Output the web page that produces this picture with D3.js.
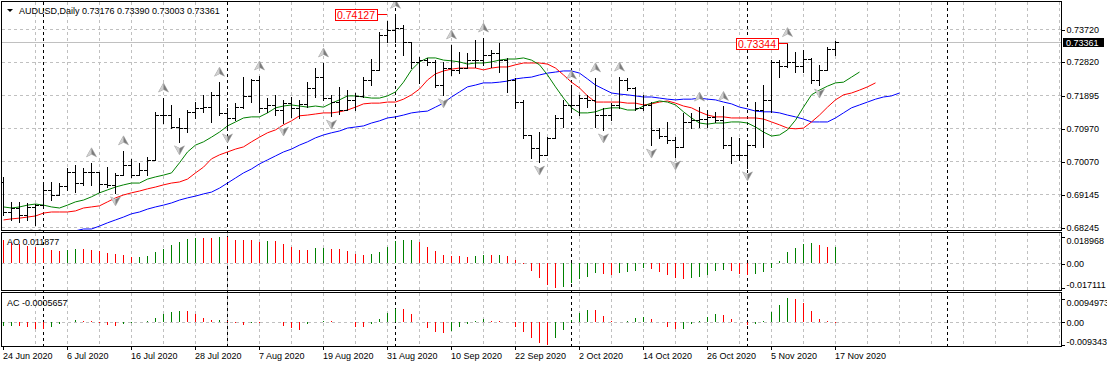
<!DOCTYPE html>
<html>
<head>
<meta charset="utf-8">
<script src="https://cdn.jsdelivr.net/npm/d3@7"></script>
<style>
  body { margin: 0; background: #fff; }
  svg { display: block; font-family: "Liberation Sans", Arial, sans-serif; font-size: 9px; }
</style>
</head>
<body>
<script>
// AUDUSD daily, 24 Jun 2020 .. 17 Nov 2020 (bar index 0..104)
const symbol = "AUDUSD,Daily";
const dateLabels = ["24 Jun 2020", "6 Jul 2020", "16 Jul 2020", "28 Jul 2020", "7 Aug 2020", "19 Aug 2020", "31 Aug 2020",
  "10 Sep 2020", "22 Sep 2020", "2 Oct 2020", "14 Oct 2020", "26 Oct 2020", "5 Nov 2020", "17 Nov 2020"];
const priceTicks = [0.73720, 0.72820, 0.71895, 0.70970, 0.70070, 0.69145, 0.68245];
const aoTicks = [0.018968, 0, -0.017111];
const aoTickLabels = ["0.018968", "0.00", "-0.017111"];
const acTicks = [0.0094973, 0, -0.0093433];
const acTickLabels = ["0.0094973", "0.00", "-0.0093433"];

const open = [.6949,.6866,.6877,.6858,.6880,.6885,.6927,.6913,.6938,.6977,
  .6946,.6977,.6977,.6943,.6941,.6968,.6996,.6968,.6982,.7010,
  .7134,.7134,.7101,.7098,.7143,.7154,.7156,.7190,.7140,.7126,
  .7156,.7187,.7231,.7154,.7162,.7148,.7167,.7154,.7165,.7209,
  .7239,.7181,.7170,.7148,.7176,.7187,.7231,.7259,.7355,.7369,
  .7375,.7336,.7281,.7286,.7281,.7217,.7264,.7259,.7264,.7286,
  .7286,.7300,.7306,.7286,.7231,.7170,.7079,.7043,.7024,.7071,
  .7126,.7162,.7162,.7181,.7176,.7134,.7134,.7162,.7231,.7209,
  .7154,.7162,.7093,.7076,.7065,.7046,.7115,.7120,.7124,.7130,
  .7120,.7051,.7024,.7024,.7051,.7148,.7176,.7281,.7270,.7281,
  .7270,.7290,.7231,.7259,.73176];
const high = [.6963,.6894,.6894,.6891,.6888,.6949,.6949,.6946,.6988,.6996,
  .6988,.7002,.6974,.6990,.6974,.7035,.7013,.7002,.7018,.7143,
  .7181,.7162,.7126,.7148,.7170,.7190,.7198,.7225,.7154,.7167,
  .7239,.7234,.7242,.7181,.7190,.7176,.7184,.7176,.7225,.7264,
  .7278,.7190,.7212,.7203,.7195,.7239,.7289,.7364,.7395,.74127,
  .7383,.7336,.7295,.7292,.7286,.7281,.7328,.7308,.7306,.7342,
  .7347,.7314,.7333,.7292,.7237,.7176,.7079,.7087,.7073,.7134,
  .7176,.7217,.7190,.7190,.7237,.7154,.7167,.7239,.7236,.7212,
  .7190,.7170,.7098,.7115,.7073,.7140,.7140,.7156,.7148,.7143,
  .7158,.7073,.7071,.7060,.7170,.7217,.7286,.7286,.73344,.7308,
  .7314,.7292,.7273,.7322,.73390];
const low = [.6858,.6844,.6838,.6844,.6830,.6885,.6899,.6913,.6927,.6921,
  .6941,.6941,.6921,.6935,.6919,.6968,.6963,.6968,.6968,.7010,
  .7112,.7098,.7060,.7087,.7126,.7143,.7115,.7134,.7093,.7120,
  .7154,.7170,.7143,.7143,.7134,.7112,.7129,.7126,.7156,.7184,
  .7176,.7131,.7137,.7148,.7148,.7184,.7217,.7259,.7336,.7336,
  .7300,.7264,.7223,.7273,.7212,.7190,.7245,.7250,.7264,.7267,
  .7273,.7267,.7253,.7198,.7154,.7071,.7015,.7004,.7024,.7071,
  .7101,.7143,.7134,.7156,.7101,.7093,.7120,.7154,.7203,.7148,
  .7148,.7051,.7071,.7057,.7018,.7046,.7098,.7101,.7101,.7115,
  .7043,.7002,.7010,.6988,.7046,.7046,.7143,.7239,.7267,.7253,
  .7253,.7223,.7217,.7259,.73003];
const close = [.6866,.6877,.6858,.6880,.6885,.6927,.6913,.6938,.6977,.6946,
  .6977,.6977,.6943,.6941,.6968,.6996,.6968,.6982,.7010,.7134,
  .7134,.7101,.7098,.7143,.7154,.7156,.7190,.7140,.7126,.7156,
  .7187,.7231,.7154,.7162,.7148,.7167,.7154,.7165,.7209,.7239,
  .7181,.7170,.7148,.7176,.7187,.7231,.7259,.7355,.7369,.7375,
  .7336,.7281,.7286,.7281,.7217,.7264,.7259,.7264,.7286,.7286,
  .7300,.7306,.7286,.7231,.7170,.7079,.7043,.7024,.7071,.7126,
  .7162,.7162,.7181,.7176,.7134,.7134,.7162,.7231,.7209,.7154,
  .7162,.7093,.7076,.7065,.7046,.7115,.7120,.7124,.7130,.7120,
  .7051,.7024,.7024,.7051,.7148,.7176,.7281,.7270,.7281,.7270,
  .7290,.7231,.7259,.73176,.73361];

// Alligator lines (already shifted forward: lips 3 bars, teeth 5, jaw 8)
const lips = [.6880,.6877,.6880,.6885,.6888,.6885,.6880,.6877,.6885,.6894,
  .6899,.6908,.6919,.6927,.6935,.6941,.6946,.6946,.6957,.6963,
  .6968,.6974,.7002,.7032,.7051,.7060,.7073,.7087,.7104,.7115,
  .7126,.7129,.7129,.7140,.7154,.7159,.7162,.7159,.7156,.7159,
  .7156,.7167,.7176,.7187,.7187,.7184,.7181,.7181,.7187,.7198,
  .7225,.7259,.7281,.7292,.7292,.7286,.7284,.7281,.7275,.7278,
  .7278,.7281,.7286,.7289,.7289,.7292,.7286,.7273,.7245,.7212,
  .7181,.7154,.7140,.7140,.7143,.7151,.7154,.7154,.7148,.7148,
  .7159,.7167,.7173,.7170,.7162,.7143,.7126,.7112,.7109,.7112,
  .7112,.7115,.7115,.7112,.7101,.7087,.7076,.7079,.7093,.7120,
  .7156,.7190,.7203,.7214,.7223,.7225,.7239,.7253];
const teeth = [.6844,.6847,.6849,.6852,.6855,.6863,.6866,.6866,.6866,.6869,
  .6877,.6880,.6883,.6894,.6905,.6913,.6919,.6924,.6930,.6935,
  .6941,.6946,.6949,.6957,.6974,.6990,.7013,.7024,.7032,.7040,
  .7046,.7060,.7073,.7085,.7093,.7107,.7118,.7132,.7134,.7137,
  .7140,.7140,.7143,.7148,.7156,.7165,.7167,.7167,.7170,.7170,
  .7178,.7190,.7206,.7231,.7248,.7256,.7261,.7264,.7264,.7264,
  .7259,.7264,.7267,.7267,.7273,.7278,.7278,.7278,.7275,.7264,
  .7245,.7225,.7209,.7187,.7170,.7170,.7170,.7170,.7167,.7167,
  .7162,.7165,.7170,.7173,.7167,.7159,.7154,.7143,.7134,.7129,
  .7129,.7126,.7126,.7126,.7126,.7123,.7115,.7107,.7098,.7096,
  .7098,.7115,.7134,.7156,.7176,.7190,.7195,.7203,.7212,.7223];
const jawStart = 9;
const jaw = [.6814,.6819,.6819,.6827,.6836,.6844,.6852,.6861,.6866,.6874,
  .6880,.6885,.6891,.6899,.6905,.6910,.6916,.6921,.6932,.6946,
  .6960,.6974,.6985,.6999,.7010,.7021,.7032,.7040,.7051,.7060,
  .7071,.7079,.7085,.7090,.7098,.7101,.7104,.7112,.7118,.7126,
  .7129,.7134,.7140,.7143,.7145,.7156,.7167,.7184,.7198,.7212,
  .7217,.7223,.7223,.7225,.7228,.7234,.7237,.7239,.7245,.7250,
  .7253,.7256,.7256,.7250,.7234,.7217,.7206,.7195,.7192,.7190,
  .7187,.7184,.7184,.7181,.7178,.7176,.7178,.7178,.7181,.7178,
  .7176,.7170,.7165,.7156,.7151,.7145,.7143,.7143,.7140,.7134,
  .7129,.7123,.7115,.7115,.7115,.7126,.7140,.7154,.7162,.7170,
  .7178,.7184,.7187,.7195];

const fractalUp = [11, 15, 20, 27, 32, 40, 49, 56, 60, 71, 74, 77, 87, 90, 98];
const fractalDown = [4, 14, 22, 28, 35, 41, 55, 67, 75, 81, 84, 93, 102];
const markBars = [49, 98];
const markPrices = [0.74127, 0.73344];
const separatorBars = [5, 28, 49, 71, 93, 118];

const aoPrev = 0.0172;
const ao = [.01648,.01414,.01344,.01251,.01181,.01110,.00919,.00870,.00940,.01011,
  .00990,.00940,.00870,.00707,.00636,.00566,.00445,.00474,.00516,.00799,
  .01039,.01294,.01506,.01718,.01817,.01789,.01768,.018968,.01838,.01648,
  .01640,.01633,.01506,.01577,.01570,.01365,.01181,.00940,.00919,.01061,
  .01110,.01011,.00990,.00870,.00636,.00587,.00636,.00827,.01181,.01577,
  .01648,.01670,.01485,.01181,.00870,.00587,.00542,.00518,.00448,.00518,
  .00590,.00580,.00600,.00518,.00236,-.00071,-.00542,-.01061,-.01532,-.017111,
  -.01650,-.01414,-.01108,-.00943,-.00707,-.00778,-.00800,-.00707,-.00589,-.00542,
  -.00306,-.00400,-.00589,-.00825,-.01014,-.01108,-.01061,-.00943,-.00825,-.00542,
  -.00471,-.00542,-.00778,-.00825,-.00778,-.00636,-.00354,.00165,.00825,.01108,
  .01367,.01414,.01290,.01160,0.011877];
const acPrev = -0.0022;
const ac = [-.00160,-.00156,-.00168,-.00200,-.00280,-.00288,-.00200,-.00092,-.00012,.00052,
  .00040,.00012,-.00040,-.00132,-.00160,-.00092,-.00040,-.00020,.00020,.00160,
  .00320,.00400,.00440,.00432,.00320,.00148,.00052,.00056,.00008,-.00068,
  -.00120,-.00068,-.00072,-.00028,-.00024,-.00160,-.00268,-.00320,-.00108,-.00012,
  .00028,.00012,-.00008,-.00028,-.00200,-.00208,-.00092,.00092,.00332,.00532,
  .00508,.00292,-.00004,-.00240,-.00428,-.00468,-.00372,-.00200,-.00092,.00008,
  .00092,.00040,.00012,-.00008,-.00200,-.00428,-.00668,-.00868,-.0093433,-.00668,
  -.00332,.00068,.00332,.00492,.00468,.00228,.00040,-.00004,.00040,.00132,
  .00200,.00092,-.00004,-.00200,-.00292,-.00280,-.00108,.00040,.00200,.00308,
  .00268,.00092,-.00012,-.00120,-.00092,.00012,.00372,.00692,.0094973,.00908,
  .00760,.00428,.00108,.00028,-0.0005657];

// layout
const W = 1107, H = 368;
const left = 1.5, right = 1061.5;
const mainTop = 1.5, mainBottom = 230.5;
const aoTop = 232.5, aoBottom = 290.5;
const acTop = 292.5, acBottom = 346.5;
const panels = [[mainTop, mainBottom], [aoTop, aoBottom], [acTop, acBottom]];
const gridColor = "#c0c0c0";
const upColor = "#008000", downColor = "#ff0000";

const x = d3.scaleLinear().domain([0, 104]).range([3, 835]);
const px = i => Math.round(x(i)) + 0.5;
const y = d3.scaleLinear().domain([0.68245, 0.73720]).range([227, 29]);
const py = v => Math.round(y(v)) + 0.5;
const yAO = d3.scaleLinear().domain([-0.017111, 0.018968]).range([287.5, 236.5]);
const yAC = d3.scaleLinear().domain([-0.0093433, 0.0094973]).range([344.8, 298.2]);

const svg = d3.select("body").append("svg")
  .attr("width", W)
  .attr("height", H)
  .attr("shape-rendering", "crispEdges");

svg.append("defs").append("clipPath").attr("id", "mainClip")
  .append("rect")
  .attr("x", left).attr("y", mainTop)
  .attr("width", right - left).attr("height", mainBottom - mainTop);

// vertical grid every 4 bars, in all three panels
const gridBars = d3.range(4, 133, 4);
panels.forEach(([t, b]) => {
  svg.append("g").selectAll("line")
    .data(gridBars)
    .enter()
    .append("line")
    .attr("x1", d => px(d)).attr("x2", d => px(d))
    .attr("y1", t).attr("y2", b)
    .attr("stroke", gridColor)
    .attr("stroke-dasharray", "3,3");
});

// horizontal grid
svg.append("g").selectAll("line")
  .data(priceTicks)
  .enter()
  .append("line")
  .attr("x1", left).attr("x2", right)
  .attr("y1", d => py(d)).attr("y2", d => py(d))
  .attr("stroke", gridColor)
  .attr("stroke-dasharray", "3,3");

[yAO, yAC].forEach(s => {
  svg.append("line")
    .attr("x1", left).attr("x2", right)
    .attr("y1", Math.round(s(0)) + 0.5).attr("y2", Math.round(s(0)) + 0.5)
    .attr("stroke", gridColor)
    .attr("stroke-dasharray", "3,3");
});

// period separators
svg.append("g").selectAll("line")
  .data(separatorBars)
  .enter()
  .append("line")
  .attr("x1", d => px(d)).attr("x2", d => px(d))
  .attr("y1", mainTop).attr("y2", acBottom)
  .attr("stroke", "#000")
  .attr("stroke-dasharray", "3,3");

// bid line
const last = close.length - 1;
svg.append("line")
  .attr("x1", left).attr("x2", right)
  .attr("y1", py(close[last])).attr("y2", py(close[last]))
  .attr("stroke", gridColor);

const main = svg.append("g").attr("clip-path", "url(#mainClip)");

// alligator
const drawLine = (vals, start, color) => {
  main.append("path")
    .datum(vals)
    .attr("fill", "none")
    .attr("stroke", color)
    .attr("stroke-width", 1)
    .attr("shape-rendering", "auto")
    .attr("d", d3.line().x((d, i) => x(start + i) + 0.5).y(d => y(d)));
};
drawLine(jaw, jawStart, "#0000ff");
drawLine(teeth, 0, "#ff0000");
drawLine(lips, 0, "#008000");

// OHLC bars
const bars = main.append("g").attr("stroke", "#000");
bars.selectAll(".hl")
  .data(close)
  .enter()
  .append("line")
  .attr("x1", (d, i) => px(i)).attr("x2", (d, i) => px(i))
  .attr("y1", (d, i) => Math.round(y(high[i])))
  .attr("y2", (d, i) => Math.round(y(low[i])) + 1);
bars.selectAll(".op")
  .data(open)
  .enter()
  .append("line")
  .attr("x1", (d, i) => px(i) - 3.5).attr("x2", (d, i) => px(i))
  .attr("y1", d => py(d)).attr("y2", d => py(d));
bars.selectAll(".cl")
  .data(close)
  .enter()
  .append("line")
  .attr("x1", (d, i) => px(i)).attr("x2", (d, i) => px(i) + 3.5)
  .attr("y1", d => py(d)).attr("y2", d => py(d));

// fractals
const arrowUp = "M0,-5L5,4L0,1.5L-5,4Z";
const arrowUpHalf = "M0,-5L0,1.5L-5,4Z";
const drawFractals = (list, flip, yOf) => {
  const g = main.append("g").selectAll("g")
    .data(list)
    .enter()
    .append("g")
    .attr("shape-rendering", "auto")
    .attr("transform", d => `translate(${px(d)},${yOf(d)}) scale(1,${flip})`);
  g.append("path").attr("d", arrowUp).attr("fill", "#7c7c7c").attr("stroke", "#9a9a9a").attr("stroke-width", 0.5);
  g.append("path").attr("d", arrowUpHalf).attr("fill", "#d0d0d0");
};
drawFractals(fractalUp, 1, i => y(high[i]) - 10);
drawFractals(fractalDown, -1, i => y(low[i]) + 8);

// high marks with red boxes
const markDx = [-8, 1];
markBars.forEach((b, k) => {
  const yy = Math.round(y(markPrices[k])) + 0.5;
  const lineEnd = Math.round(x(b)) + markDx[k];
  const boxRight = lineEnd - 10;
  main.append("line")
    .attr("x1", boxRight).attr("x2", lineEnd)
    .attr("y1", yy).attr("y2", yy)
    .attr("stroke", "#ff0000");
  main.append("rect")
    .attr("x", boxRight - 42 + 0.5).attr("y", yy - 5.5)
    .attr("width", 42).attr("height", 11)
    .attr("fill", "#fff")
    .attr("stroke", "#ff0000");
  main.append("text")
    .attr("x", boxRight - 21).attr("y", yy + 4)
    .attr("text-anchor", "middle")
    .attr("fill", "#ff0000")
    .style("font-size", "10.5px")
    .text(markPrices[k].toFixed(5));
});

// AO / AC histograms
const histo = (vals, prev, scale) => {
  svg.append("g").selectAll("line")
    .data(vals)
    .enter()
    .append("line")
    .attr("x1", (d, i) => px(i)).attr("x2", (d, i) => px(i))
    .attr("y1", Math.round(scale(0)))
    .attr("y2", d => Math.round(scale(d)))
    .attr("stroke", (d, i) => d > (i === 0 ? prev : vals[i - 1]) ? upColor : downColor);
};
histo(ao, aoPrev, yAO);
histo(ac, acPrev, yAC);

// panel frames
panels.forEach(([t, b]) => {
  svg.append("rect")
    .attr("x", left).attr("y", t)
    .attr("width", right - left).attr("height", b - t)
    .attr("fill", "none")
    .attr("stroke", "#000");
});

// axes
const styleAxis = g => {
  g.select(".domain").remove();
  g.attr("font-family", null).attr("font-size", null);
  g.selectAll("text").attr("fill", "#000");
  g.selectAll("line").attr("stroke", "#000");
};
svg.append("g")
  .attr("transform", `translate(${right},0.5)`)
  .call(d3.axisRight(y).tickValues(priceTicks).tickSize(3).tickPadding(2).tickFormat(d3.format(".5f")))
  .call(styleAxis);

const subAxis = (scale, ticks, labels) => {
  const g = svg.append("g")
    .attr("transform", `translate(${right},0.5)`)
    .call(d3.axisRight(scale).tickValues(ticks).tickSize(3).tickPadding(2).tickFormat((d, i) => labels[i]))
    .call(styleAxis);
  g.selectAll(".tick text").attr("dy", (d, i) => i === 0 ? "0.7em" : i === 2 ? "-0.05em" : "0.32em");
};
subAxis(yAO, aoTicks, aoTickLabels);
subAxis(yAC, acTicks, acTickLabels);

svg.append("g")
  .attr("transform", `translate(0,${acBottom})`)
  .call(d3.axisBottom(x).tickValues(d3.range(0, 105, 8)).tickSize(3).tickPadding(3)
    .tickFormat((d, i) => dateLabels[i]))
  .call(styleAxis)
  .selectAll(".tick text")
  .attr("text-anchor", "start")
  .attr("x", -0.5);

// current price box
svg.append("rect")
  .attr("x", 1063).attr("y", Math.round(y(close[last])) - 4)
  .attr("width", 41).attr("height", 9)
  .attr("fill", "#000");
svg.append("text")
  .attr("x", 1066).attr("y", Math.round(y(close[last])) + 3.5)
  .attr("fill", "#fff")
  .text(close[last].toFixed(5));

// labels
svg.append("path").attr("d", "M7,9L13,9L10,12Z").attr("fill", "#000").attr("shape-rendering", "auto");
svg.append("text")
  .attr("x", 19).attr("y", 13.5)
  .text(`${symbol}  ${open[last].toFixed(5)} ${high[last].toFixed(5)} ${low[last].toFixed(5)} ${close[last].toFixed(5)}`);
svg.append("text").attr("x", 7).attr("y", 245).text("AO " + ao[ao.length - 1]);
svg.append("text").attr("x", 7).attr("y", 306).text("AC " + ac[ac.length - 1]);
</script>
</body>
</html>
